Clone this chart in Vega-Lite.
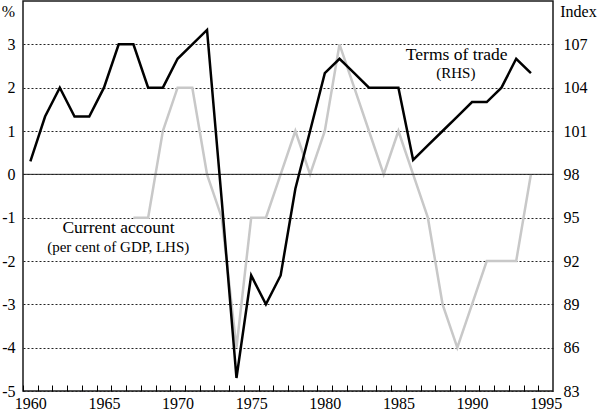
{
  "$schema": "https://vega.github.io/schema/vega-lite/v6.json",
  "width": 530,
  "height": 390,
  "autosize": "none",
  "padding": {"left": 23, "top": 1, "right": 47, "bottom": 24},
  "config": {
    "font": "Liberation Serif",
    "view": {"stroke": "#1a1a1a", "strokeWidth": 1.5},
    "axis": {
      "labelFont": "Liberation Serif",
      "labelFontSize": 16,
      "labelColor": "#000",
      "titleFont": "Liberation Serif",
      "titleFontSize": 16,
      "titleFontWeight": "normal",
      "titleColor": "#000",
      "domain": false
    }
  },
  "datasets": {
    "series": [
      {"year": 1960, "tot": 98.9},
      {"year": 1961, "tot": 102},
      {"year": 1962, "tot": 104},
      {"year": 1963, "tot": 102},
      {"year": 1964, "tot": 102},
      {"year": 1965, "tot": 104},
      {"year": 1966, "tot": 107},
      {"year": 1967, "tot": 107, "ca": -1},
      {"year": 1968, "tot": 104, "ca": -1},
      {"year": 1969, "tot": 104, "ca": 1},
      {"year": 1970, "tot": 106, "ca": 2},
      {"year": 1971, "tot": 107, "ca": 2},
      {"year": 1972, "tot": 108, "ca": 0},
      {"year": 1973, "tot": 96.2, "ca": -1},
      {"year": 1974, "tot": 83.9, "ca": -4},
      {"year": 1975, "tot": 91, "ca": -1},
      {"year": 1976, "tot": 89, "ca": -1},
      {"year": 1977, "tot": 91, "ca": 0},
      {"year": 1978, "tot": 97, "ca": 1},
      {"year": 1979, "tot": 101, "ca": 0},
      {"year": 1980, "tot": 105, "ca": 1},
      {"year": 1981, "tot": 106, "ca": 3},
      {"year": 1982, "tot": 105, "ca": 2},
      {"year": 1983, "tot": 104, "ca": 1},
      {"year": 1984, "tot": 104, "ca": 0},
      {"year": 1985, "tot": 104, "ca": 1},
      {"year": 1986, "tot": 99, "ca": 0},
      {"year": 1987, "tot": 100, "ca": -1},
      {"year": 1988, "tot": 101, "ca": -3},
      {"year": 1989, "tot": 102, "ca": -4},
      {"year": 1990, "tot": 103, "ca": -3},
      {"year": 1991, "tot": 103, "ca": -2},
      {"year": 1992, "tot": 104, "ca": -2},
      {"year": 1993, "tot": 106, "ca": -2},
      {"year": 1994, "tot": 105, "ca": 0}
    ],
    "zero": [{"value": 0}],
    "bignotes": [
      {"year": 1988.96, "value": 2.75, "text": "Terms of trade"},
      {"year": 1965.99, "value": -1.24, "text": "Current account"}
    ],
    "smallnotes": [
      {"year": 1988.9, "value": 2.33, "text": "(RHS)"},
      {"year": 1965.97, "value": -1.67, "text": "(per cent of GDP, LHS)"}
    ]
  },
  "encoding": {
    "x": {
      "field": "year",
      "type": "quantitative",
      "scale": {"domain": [1959.5, 1995.5], "nice": false, "zero": false},
      "axis": {
        "title": null,
        "grid": false,
        "values": [1959.5, 1960.5, 1961.5, 1962.5, 1963.5, 1964.5, 1965.5, 1966.5, 1967.5, 1968.5, 1969.5, 1970.5, 1971.5, 1972.5, 1973.5, 1974.5, 1975.5, 1976.5, 1977.5, 1978.5, 1979.5, 1980.5, 1981.5, 1982.5, 1983.5, 1984.5, 1985.5, 1986.5, 1987.5, 1988.5, 1989.5, 1990.5, 1991.5, 1992.5, 1993.5, 1994.5],
        "labelExpr": "(datum.value + 0.5) % 5 == 0 ? format(datum.value + 0.5, 'd') : ''",
        "labelOffset": 7.36,
        "labelOverlap": false,
        "labelFlush": false,
        "tickSize": -6,
        "tickColor": "#000",
        "tickWidth": 1,
        "labelPadding": 10
      }
    }
  },
  "layer": [
    {
      "layer": [
        {
          "data": {"name": "series"},
          "transform": [{"filter": "isValid(datum.ca)"}],
          "mark": {"type": "line", "color": "#c8c8c8", "strokeWidth": 2.5},
          "encoding": {
            "y": {
              "field": "ca",
              "type": "quantitative",
              "scale": {"domain": [-5, 4], "nice": false, "zero": false},
              "axis": {
                "orient": "left",
                "values": [-5, -4, -3, -2, -1, 0, 1, 2, 3],
                "labelExpr": "datum.value < 0 ? '-' + abs(datum.value) : '' + datum.value",
                "grid": true,
                "gridDash": [2, 2],
                "gridColor": "#222",
                "gridWidth": 1,
                "tickSize": 0,
                "labelPadding": 8,
                "title": "%",
                "titleAngle": 0,
                "titleX": -15,
                "titleY": 10,
                "titleAlign": "center",
                "titleBaseline": "middle"
              }
            }
          }
        },
        {
          "data": {"name": "zero"},
          "mark": {"type": "rule", "color": "#222", "strokeWidth": 1},
          "encoding": {
            "x": null,
            "y": {"field": "value", "type": "quantitative", "title": "%"}
          }
        },
        {
          "data": {"name": "bignotes"},
          "mark": {"type": "text", "fontSize": 17.5, "color": "#000", "align": "center", "baseline": "middle"},
          "encoding": {
            "y": {"field": "value", "type": "quantitative", "title": "%"},
            "text": {"field": "text"}
          }
        },
        {
          "data": {"name": "smallnotes"},
          "mark": {"type": "text", "fontSize": 15, "color": "#000", "align": "center", "baseline": "middle"},
          "encoding": {
            "y": {"field": "value", "type": "quantitative", "title": "%"},
            "text": {"field": "text"}
          }
        }
      ]
    },
    {
      "data": {"name": "series"},
      "mark": {"type": "line", "color": "#000", "strokeWidth": 2.5},
      "encoding": {
        "y": {
          "field": "tot",
          "type": "quantitative",
          "scale": {"domain": [83, 110], "nice": false, "zero": false},
          "axis": {
            "orient": "right",
            "values": [83, 86, 89, 92, 95, 98, 101, 104, 107],
            "grid": false,
            "tickSize": 0,
            "labelPadding": 10,
            "title": "Index",
            "titleAngle": 0,
            "titleX": 25,
            "titleY": 10,
            "titleAlign": "center",
            "titleBaseline": "middle"
          }
        }
      }
    }
  ],
  "resolve": {"scale": {"y": "independent"}}
}
